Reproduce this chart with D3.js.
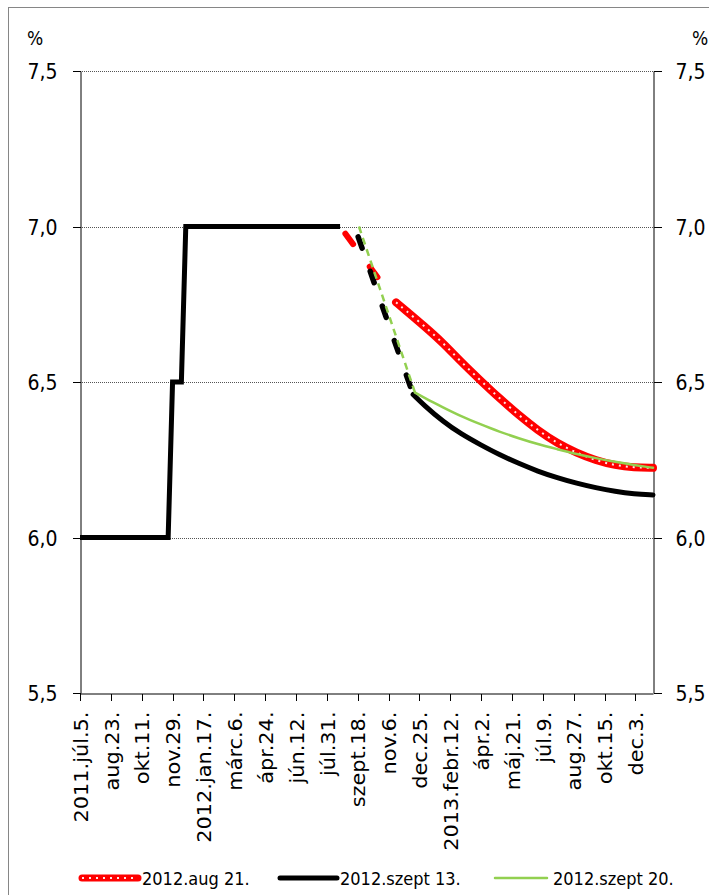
<!DOCTYPE html>
<html>
<head>
<meta charset="utf-8">
<script src="https://cdn.jsdelivr.net/npm/d3@7"></script>
<style>
  body { margin: 0; background: #fff; }
  svg { display: block; }
  text { font-family: "DejaVu Sans Condensed", "DejaVu Sans", sans-serif; fill: #000; }
</style>
</head>
<body>
<div id="chart"></div>
<script>
// Layout
const width = 709;
const height = 895;
const margin = { top: 71, right: 56, bottom: 202, left: 80 };

// X axis: tick dates and their labels
const tickDates = ["2011-07-05", "2011-08-23", "2011-10-11", "2011-11-29", "2012-01-17",
  "2012-03-06", "2012-04-24", "2012-06-12", "2012-07-31", "2012-09-18", "2012-11-06",
  "2012-12-25", "2013-02-12", "2013-04-02", "2013-05-21", "2013-07-09", "2013-08-27",
  "2013-10-15", "2013-12-03"];
const tickLabels = ["2011.júl.5.", "aug.23.", "okt.11.", "nov.29.", "2012.jan.17.",
  "márc.6.", "ápr.24.", "jún.12.", "júl.31.", "szept.18.", "nov.6.",
  "dec.25.", "2013.febr.12.", "ápr.2.", "máj.21.", "júl.9.", "aug.27.",
  "okt.15.", "dec.3."];
const xDomain = ["2011-07-05", "2013-12-31"];
const yTicks = [5.5, 6.0, 6.5, 7.0, 7.5];

// Legend names
const seriesNames = ["2012.aug 21.", "2012.szept 13.", "2012.szept 20."];

// Base rate history (black)
const historyDates = ["2011-07-05", "2011-11-22", "2011-11-29", "2011-12-13", "2011-12-20", "2012-08-21"];
const historyValues = [6.0, 6.0, 6.5, 6.5, 7.0, 7.0];

// 2012.aug 21. (red)
const augBridgeDates = ["2012-08-21", "2012-11-18"];
const augBridgeValues = [7.0, 6.756];
const augDates = ["2012-11-18", "2012-12-01", "2013-01-01", "2013-02-01", "2013-03-01", "2013-04-01",
  "2013-05-01", "2013-06-01", "2013-07-01", "2013-08-01", "2013-09-01", "2013-10-01",
  "2013-11-01", "2013-12-01", "2013-12-31"];
const augValues = [6.756, 6.734, 6.681, 6.625, 6.565, 6.505, 6.448, 6.393, 6.345, 6.303,
  6.272, 6.248, 6.232, 6.225, 6.224];

// 2012.szept 13. (black)
const sep13BridgeDates = ["2012-09-13", "2012-12-15"];
const sep13BridgeValues = [7.0, 6.46];
const sep13Dates = ["2012-12-15", "2013-01-01", "2013-02-01", "2013-03-01", "2013-04-01",
  "2013-05-01", "2013-06-01", "2013-07-01", "2013-08-01", "2013-09-01", "2013-10-01",
  "2013-11-01", "2013-12-01", "2013-12-31"];
const sep13Values = [6.46, 6.426, 6.372, 6.333, 6.298, 6.266, 6.238, 6.213, 6.192,
  6.174, 6.16, 6.148, 6.14, 6.137];

// 2012.szept 20. (green)
const sep20BridgeDates = ["2012-09-20", "2012-12-18"];
const sep20BridgeValues = [7.0, 6.466];
const sep20Dates = ["2012-12-18", "2013-01-01", "2013-02-01", "2013-03-01", "2013-04-01",
  "2013-05-01", "2013-06-01", "2013-07-01", "2013-08-01", "2013-09-01", "2013-10-01",
  "2013-11-01", "2013-12-01", "2013-12-31"];
const sep20Values = [6.466, 6.45, 6.418, 6.39, 6.364, 6.34, 6.319, 6.30, 6.284,
  6.268, 6.255, 6.243, 6.233, 6.224];

const red = "#ff0000";
const green = "#92d050";

const parse = d3.utcParse("%Y-%m-%d");
const zip = (dates, values) => dates.map((d, i) => ({ date: parse(d), value: values[i] }));

const svg = d3.select("#chart")
  .append("svg")
  .attr("width", width)
  .attr("height", height);

// Outer chart border
svg.append("rect")
  .attr("x", 8.5)
  .attr("y", 7.5)
  .attr("width", width + 10)
  .attr("height", height + 10)
  .attr("fill", "none")
  .attr("stroke", "#868686");

// Scales
const x = d3.scaleUtc()
  .domain(xDomain.map(parse))
  .range([margin.left, width - margin.right]);

const y = d3.scaleLinear()
  .domain([5.5, 7.5])
  .range([height - margin.bottom, margin.top]);

const fmt = v => d3.format(".1f")(v).replace(".", ",");

// Gridlines
svg.append("g")
  .selectAll("line")
  .data(yTicks.filter(v => v > 5.5))
  .join("line")
  .attr("x1", margin.left)
  .attr("x2", width - margin.right)
  .attr("y1", d => Math.round(y(d)) + 0.5)
  .attr("y2", d => Math.round(y(d)) + 0.5)
  .attr("stroke", "#555")
  .attr("stroke-dasharray", "1,1");

// Axes
const xAxis = svg.append("g")
  .attr("transform", `translate(0,${Math.round(y(5.5)) + 0.5})`)
  .call(d3.axisBottom(x)
    .tickValues(tickDates.map(parse))
    .tickFormat((d, i) => tickLabels[i])
    .tickSize(7)
    .tickSizeOuter(0));

xAxis.selectAll(".tick text")
  .attr("x", 0)
  .attr("y", 0)
  .attr("dy", "0.36em")
  .attr("transform", "translate(0,18) rotate(-90) scale(1.16,1)")
  .style("text-anchor", "end")
  .style("font-size", "20px");

const yLeft = svg.append("g")
  .attr("transform", `translate(${margin.left + 0.5},0)`)
  .call(d3.axisLeft(y).tickValues(yTicks).tickFormat(fmt).tickSize(8).tickPadding(15).tickSizeOuter(0));

const yRight = svg.append("g")
  .attr("transform", `translate(${width - margin.right + 0.5},0)`)
  .call(d3.axisRight(y).tickValues(yTicks).tickFormat(fmt).tickSize(8).tickPadding(14).tickSizeOuter(0));

[yLeft, yRight].forEach(g => g.selectAll(".tick text")
  .style("font-size", "21px")
  .attr("dy", "0.36em"));

svg.selectAll(".domain, .tick line").attr("stroke", "#000");
svg.selectAll(".tick line").attr("shape-rendering", "crispEdges");

// Unit labels
svg.append("text").attr("x", 35).attr("y", 45).attr("text-anchor", "middle")
  .style("font-size", "19px").text("%");
svg.append("text").attr("x", 700).attr("y", 45).attr("text-anchor", "middle")
  .style("font-size", "19px").text("%");

// Lines
const line = d3.line().x(d => x(d.date)).y(d => y(d.value));
const curve = d3.line().x(d => x(d.date)).y(d => y(d.value)).curve(d3.curveBasis);
const plot = svg.append("g")
  .attr("fill", "none")
  .attr("stroke-linecap", "round")
  .attr("stroke-linejoin", "round");

// black history
plot.append("path")
  .attr("d", line(zip(historyDates, historyValues)))
  .attr("stroke", "#000")
  .attr("stroke-width", 5)
  .attr("stroke-linecap", "butt")
  .attr("stroke-linejoin", "miter");

// red: 2012.aug 21.
plot.append("path")
  .attr("d", line(zip(augBridgeDates, augBridgeValues)))
  .attr("stroke", red)
  .attr("stroke-width", 6)
  .attr("stroke-dasharray", "13,28,13,100")
  .attr("stroke-dashoffset", -9);
plot.append("path")
  .attr("d", curve(zip(augDates, augValues)))
  .attr("stroke", red)
  .attr("stroke-width", 8);
plot.append("path")
  .attr("d", curve(zip(augDates, augValues)))
  .attr("stroke", "#fff")
  .attr("stroke-width", 2)
  .attr("stroke-linecap", "butt")
  .attr("stroke-dasharray", "2,5")
  .attr("opacity", 0.9);

// black: 2012.szept 13.
plot.append("path")
  .attr("d", line(zip(sep13BridgeDates, sep13BridgeValues)))
  .attr("stroke", "#000")
  .attr("stroke-width", 5.5)
  .attr("stroke-dasharray", "12,24.6")
  .attr("stroke-dashoffset", -11);
plot.append("path")
  .attr("d", curve(zip(sep13Dates, sep13Values)))
  .attr("stroke", "#000")
  .attr("stroke-width", 5);

// green: 2012.szept 20.
plot.append("path")
  .attr("d", line(zip(sep20BridgeDates, sep20BridgeValues)))
  .attr("stroke", green)
  .attr("stroke-width", 2.5)
  .attr("stroke-linecap", "butt")
  .attr("stroke-dasharray", "7,5");
plot.append("path")
  .attr("d", curve(zip(sep20Dates, sep20Values)))
  .attr("stroke", green)
  .attr("stroke-width", 2.5);

// Legend
const legendY = 878;
const legendItems = [
  { x1: 82, x2: 138, tx: 142 },
  { x1: 280, x2: 337, tx: 340 },
  { x1: 495, x2: 547, tx: 553 }
];
const legend = svg.append("g").attr("stroke-linecap", "round");

legend.append("line")
  .attr("x1", legendItems[0].x1).attr("x2", legendItems[0].x2)
  .attr("y1", legendY).attr("y2", legendY)
  .attr("stroke", red).attr("stroke-width", 7);
legend.append("line")
  .attr("x1", legendItems[0].x1).attr("x2", legendItems[0].x2)
  .attr("y1", legendY).attr("y2", legendY)
  .attr("stroke", "#fff").attr("stroke-width", 2).attr("stroke-linecap", "butt")
  .attr("stroke-dasharray", "2,5").attr("opacity", 0.9);
legend.append("line")
  .attr("x1", legendItems[1].x1).attr("x2", legendItems[1].x2)
  .attr("y1", legendY).attr("y2", legendY)
  .attr("stroke", "#000").attr("stroke-width", 5);
legend.append("line")
  .attr("x1", legendItems[2].x1).attr("x2", legendItems[2].x2)
  .attr("y1", legendY).attr("y2", legendY)
  .attr("stroke", green).attr("stroke-width", 2.5);

legend.selectAll("text")
  .data(seriesNames)
  .join("text")
  .attr("x", (d, i) => legendItems[i].tx)
  .attr("y", legendY + 6.5)
  .style("font-size", "18px")
  .text(d => d);
</script>
</body>
</html>
